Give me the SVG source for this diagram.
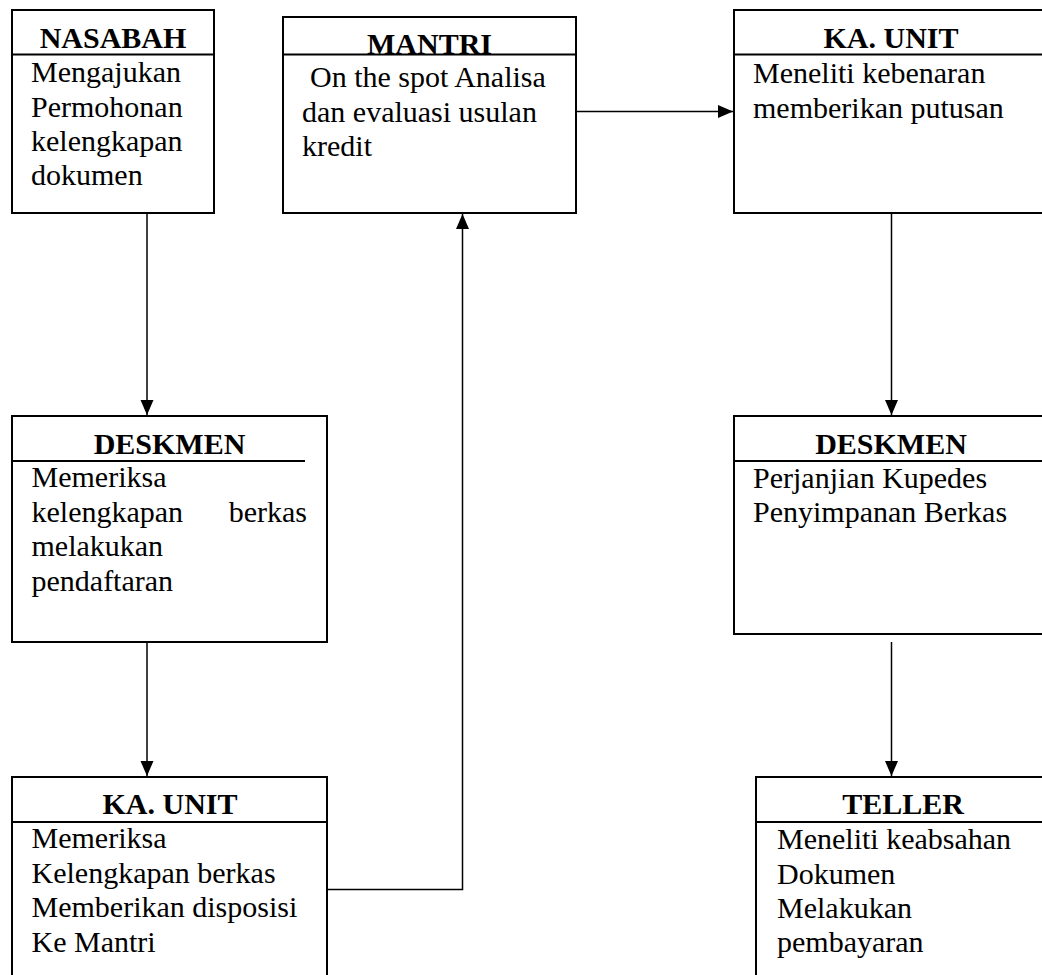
<svg xmlns="http://www.w3.org/2000/svg" width="1042" height="975" viewBox="0 0 1042 975">
<defs>
<style>
.box{fill:#fff;stroke:#000;stroke-width:2}
.div{stroke:#000;stroke-width:2}
.t{font-family:"Liberation Serif","Times New Roman",serif;font-size:30px;font-weight:bold;text-anchor:middle;fill:#000}
.b{font-family:"Liberation Serif","Times New Roman",serif;font-size:30px;fill:#000}
.c{fill:none;stroke:#000;stroke-width:1.5}
</style>
<marker id="ah" markerUnits="userSpaceOnUse" markerWidth="16" markerHeight="14" refX="15" refY="6.5" orient="auto">
<path d="M0,0 L15,6.5 L0,13 z" fill="#000"/>
</marker>
</defs>
<rect width="1042" height="975" fill="#fff"/>
<g id="connectors">
<line class="c" x1="147" y1="213" x2="147" y2="415" marker-end="url(#ah)"/>
<line class="c" x1="147" y1="642" x2="147" y2="776" marker-end="url(#ah)"/>
<polyline class="c" points="327,889.5 462.5,889.5 462.5,214" marker-end="url(#ah)"/>
<line class="c" x1="576" y1="111.5" x2="733" y2="111.5" marker-end="url(#ah)"/>
<line class="c" x1="891.5" y1="213" x2="891.5" y2="415" marker-end="url(#ah)"/>
<line class="c" x1="891.5" y1="642" x2="891.5" y2="776" marker-end="url(#ah)"/>
</g>
<g id="nasabah">
<rect class="box" x="12" y="10" width="202" height="203"/>
<line class="div" x1="12" y1="54.5" x2="214" y2="54.5"/>
<text class="t" x="113" y="48">NASABAH</text>
<text class="b" x="31" y="82">Mengajukan</text>
<text class="b" x="31" y="117">Permohonan</text>
<text class="b" x="31" y="151">kelengkapan</text>
<text class="b" x="31" y="185">dokumen</text>
</g>
<g id="mantri">
<rect class="box" x="283" y="17" width="293" height="196"/>
<line class="div" x1="283" y1="54.5" x2="576" y2="54.5"/>
<text class="t" x="429.5" y="54">MANTRI</text>
<text class="b" x="310" y="87">On the spot Analisa</text>
<text class="b" x="302" y="122">dan evaluasi usulan</text>
<text class="b" x="302" y="156">kredit</text>
</g>
<g id="kaunit-top">
<rect class="box" x="734" y="10" width="320" height="203"/>
<line class="div" x1="734" y1="54.5" x2="1042" y2="54.5"/>
<text class="t" x="891" y="48">KA. UNIT</text>
<text class="b" x="753" y="83">Meneliti kebenaran</text>
<text class="b" x="753" y="118">memberikan putusan</text>
</g>
<g id="deskmen-left">
<rect class="box" x="12" y="416" width="315" height="226"/>
<line class="div" x1="12" y1="461" x2="305" y2="461"/>
<text class="t" x="169.5" y="454">DESKMEN</text>
<text class="b" x="31.5" y="487">Memeriksa</text>
<text class="b" x="31.5" y="521.5">kelengkapan</text>
<text class="b" x="307" y="521.5" text-anchor="end">berkas</text>
<text class="b" x="31.5" y="556">melakukan</text>
<text class="b" x="31.5" y="591">pendaftaran</text>
</g>
<g id="deskmen-right">
<rect class="box" x="734" y="416" width="320" height="218"/>
<line class="div" x1="734" y1="461" x2="1042" y2="461"/>
<text class="t" x="891" y="454">DESKMEN</text>
<text class="b" x="753" y="488">Perjanjian Kupedes</text>
<text class="b" x="753" y="522">Penyimpanan Berkas</text>
</g>
<g id="kaunit-bottom">
<rect class="box" x="12" y="777" width="315" height="210"/>
<line class="div" x1="12" y1="822" x2="327" y2="822"/>
<text class="t" x="170" y="814">KA. UNIT</text>
<text class="b" x="31.5" y="848">Memeriksa</text>
<text class="b" x="31.5" y="882.5">Kelengkapan berkas</text>
<text class="b" x="31.5" y="917">Memberikan disposisi</text>
<text class="b" x="31.5" y="951.5">Ke Mantri</text>
</g>
<g id="teller">
<rect class="box" x="756" y="777" width="300" height="210"/>
<line class="div" x1="756" y1="822" x2="1042" y2="822"/>
<text class="t" x="903" y="814">TELLER</text>
<text class="b" x="777" y="849">Meneliti keabsahan</text>
<text class="b" x="777" y="883.5">Dokumen</text>
<text class="b" x="777" y="918">Melakukan</text>
<text class="b" x="777" y="952">pembayaran</text>
</g>
</svg>
